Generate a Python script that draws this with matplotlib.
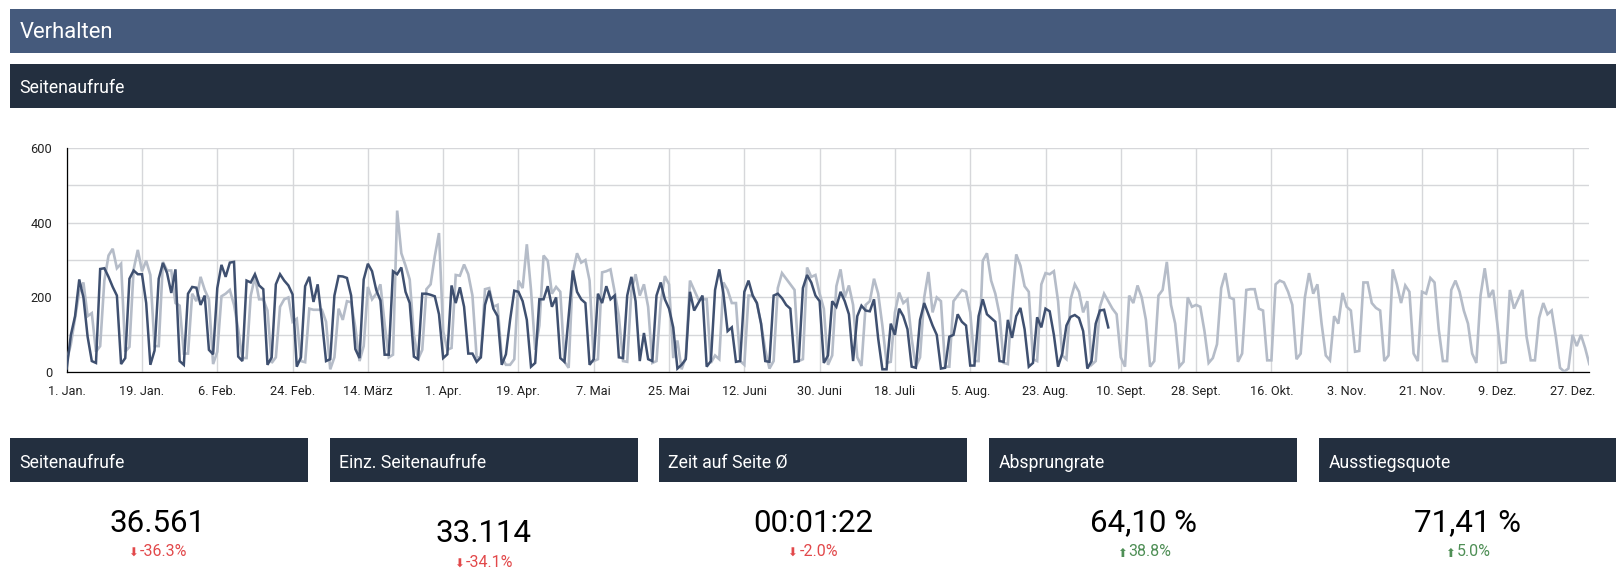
import matplotlib
matplotlib.use("Agg")
import matplotlib.pyplot as plt
import numpy as np

W, H = 1621, 587

C_HEAD1 = "#455a7c"
C_HEAD2 = "#232f3f"
C_DARK = "#3f5070"
C_GRAY = "#b5bcc8"
C_GRID = "#d6d7da"
C_RED = "#e2494b"
C_GREEN = "#4f8f56"

plt.rcParams["font.family"] = ["Roboto", "DejaVu Sans"]

# daily page views, current year (stops in September)
current = [
    10, 100, 150, 248, 200, 95, 30,
    25, 276, 278, 255, 228, 205, 22,
    38, 250, 272, 262, 262, 185, 20,
    58, 250, 292, 265, 212, 275, 30,
    20, 210, 228, 226, 180, 205, 60,
    48, 225, 287, 255, 293, 295, 42,
    30, 245, 240, 262, 232, 222, 20,
    40, 235, 262, 245, 232, 208, 15,
    40, 230, 255, 188, 235, 140, 30,
    35, 205, 257, 256, 252, 205, 62,
    38, 248, 290, 270, 220, 192, 47,
    47, 270, 262, 280, 215, 185, 42,
    35, 210, 210, 207, 203, 155, 38,
    48, 232, 185, 227, 175, 50, 50,
    28, 40, 180, 218, 170, 150, 20,
    48, 140, 218, 215, 190, 140, 15,
    25, 195, 195, 230, 175, 200, 38,
    28, 150, 272, 215, 195, 185, 20,
    35, 210, 185, 230, 195, 205, 40,
    38, 205, 255, 190, 30, 105, 35,
    30, 205, 240, 195, 170, 120, 10,
    20, 35, 215, 165, 185, 205, 15,
    30, 220, 275, 210, 110, 120, 28,
    30, 215, 245, 205, 185, 130, 30,
    28, 205, 210, 198, 180, 170, 28,
    30, 225, 260, 240, 205, 190, 25,
    45, 190, 175, 215, 190, 155, 30,
    150, 178, 165, 163, 195, 90, 8,
    8, 130, 100, 170, 150, 115, 15,
    12, 140, 185, 155, 125, 100, 10,
    12, 95, 100, 155, 135, 125, 18,
    18, 150, 195, 155, 145, 135, 30,
    28, 140, 92, 150, 172, 115, 15,
    25, 147, 120, 170, 163, 100, 15,
    50, 125, 148, 153, 145, 110, 10,
    30, 130, 165, 167, 120,
]

# daily page views, previous year (full year)
previous = [
    30, 75, 145, 215, 240, 150, 158,
    55, 70, 245, 312, 330, 278, 290,
    55, 68, 275, 327, 270, 298, 260,
    70, 70, 295, 272, 272, 185, 178,
    50, 50, 210, 190, 255, 220, 195,
    22, 55, 203, 210, 220, 180, 115,
    38, 38, 205, 255, 195, 195, 165,
    25, 40, 175, 195, 200, 135, 143,
    30, 27, 170, 167, 167, 167, 135,
    8, 40, 170, 140, 190, 187, 120,
    30, 70, 228, 195, 210, 235, 130,
    40, 47, 432, 318, 285, 248, 100,
    35, 60, 222, 235, 310, 372, 110,
    60, 65, 260, 258, 288, 262, 205,
    40, 40, 222, 225, 175, 180, 40,
    20, 20, 35, 245, 225, 342, 220,
    60, 125, 312, 298, 210, 228, 215,
    28, 12, 265, 318, 293, 300, 245,
    30, 35, 267, 270, 275, 215, 150,
    30, 28, 218, 262, 205, 235, 175,
    25, 30, 185, 257, 235, 38, 85,
    8, 40, 245, 220, 195, 195, 195,
    25, 45, 35, 240, 220, 185, 185,
    30, 20, 205, 205, 185, 130, 60,
    10, 30, 225, 265, 250, 235, 220,
    30, 35, 280, 255, 260, 210, 170,
    20, 45, 230, 275, 200, 232, 180,
    40, 17, 180, 190, 250, 210, 125,
    25, 28, 160, 213, 185, 195, 90,
    15, 40, 200, 268, 160, 200, 190,
    15, 15, 190, 205, 220, 215, 160,
    30, 30, 298, 318, 245, 210, 155,
    25, 22, 190, 315, 285, 230, 215,
    35, 30, 235, 265, 262, 270, 190,
    45, 35, 195, 235, 215, 160, 190,
    20, 30, 175, 210, 190, 170, 155,
    40, 15, 205, 185, 232, 200, 140,
    15, 30, 205, 220, 295, 180, 130,
    15, 28, 200, 175, 180, 175, 110,
    25, 38, 75, 225, 265, 200, 195,
    28, 50, 220, 222, 222, 170, 165,
    32, 32, 235, 245, 240, 215, 180,
    35, 50, 200, 265, 210, 235, 130,
    45, 32, 150, 130, 212, 175, 165,
    55, 57, 240, 240, 185, 172, 165,
    30, 45, 275, 235, 185, 232, 215,
    50, 30, 215, 210, 252, 240, 115,
    30, 30, 220, 245, 215, 165, 130,
    50, 25, 205, 278, 200, 220, 130,
    25, 27, 220, 170, 195, 220, 95,
    32, 32, 145, 185, 155, 165, 95,
    12, 2, 10, 100, 70, 100, 65,
    22,
]

tick_days = [0, 18, 36, 54, 72, 90, 108, 126, 144, 162, 180, 198, 216, 234,
             252, 270, 288, 306, 324, 342, 360]
tick_labels = ["1. Jan.", "19. Jan.", "6. Feb.", "24. Feb.", "14. März",
               "1. Apr.", "19. Apr.", "7. Mai", "25. Mai", "12. Juni",
               "30. Juni", "18. Juli", "5. Aug.", "23. Aug.", "10. Sept.",
               "28. Sept.", "16. Okt.", "3. Nov.", "21. Nov.", "9. Dez.",
               "27. Dez."]

tile_titles = ["Seitenaufrufe", "Einz. Seitenaufrufe", "Zeit auf Seite Ø",
               "Absprungrate", "Ausstiegsquote"]
tile_values = ["36.561", "33.114", "00:01:22", "64,10 %", "71,41 %"]
tile_deltas = ["-36.3%", "-34.1%", "-2.0%", "38.8%", "5.0%"]
tile_up = [False, False, False, True, True]

# tile geometry in pixels: left, right, value centre x, value centre y
tile_left = [10, 329.5, 659, 989, 1319]
tile_right = [307.5, 638, 967, 1297, 1616]
tile_cx = [157.5, 483.5, 813, 1143, 1467]
tile_cy = [523, 533.5, 523, 523, 523]


def main():
    fig = plt.figure(figsize=(W / 100, H / 100), dpi=100, facecolor="white")

    # page layer in pixel coordinates
    page = fig.add_axes([0, 0, 1, 1])
    page.set_xlim(0, W)
    page.set_ylim(H, 0)
    page.axis("off")

    page.fill_between([10, 1616], 9, 53, color=C_HEAD1, lw=0)
    page.text(19.5, 32.5, "Verhalten", color="white", fontsize=15.8, va="center")
    page.fill_between([10, 1616], 64, 108, color=C_HEAD2, lw=0)
    page.text(19.5, 88, "Seitenaufrufe", color="white", fontsize=12.7, va="center")

    for i, title in enumerate(tile_titles):
        page.fill_between([tile_left[i], tile_right[i]], 438, 482,
                          color=C_HEAD2, lw=0)
        page.text(tile_left[i] + 9.5, 462.5, title, color="white", fontsize=12.7,
                  va="center")
        page.text(tile_cx[i], tile_cy[i], tile_values[i], color="black",
                  fontsize=22.5, ha="center", va="center")
        col = C_GREEN if tile_up[i] else C_RED
        arrow = "\u2b06" if tile_up[i] else "\u2b07"
        y = tile_cy[i] + 29
        # arrow and delta sit together under the value
        tx = tile_cx[i] + 6.5
        page.text(tx, y, tile_deltas[i], color=col, fontsize=11.5, ha="center",
                  va="center")
        dw = len(tile_deltas[i]) * 7.5
        page.text(tx - dw / 2 - 9, y + 1.5, arrow, color=col, fontsize=8.5,
                  ha="center", va="center", family="DejaVu Sans")

    # chart
    left, right, top, bottom = 66.7, 1589.3, 147.7, 372.3
    ax = fig.add_axes([left / W, 1 - bottom / H, (right - left) / W, (bottom - top) / H])
    ax.patch.set_alpha(0)

    x_prev = np.arange(len(previous))
    x_cur = np.arange(len(current))
    ax.plot(x_prev, previous, color=C_GRAY, lw=1.9, solid_joinstyle="miter", zorder=3)
    ax.plot(x_cur, current, color=C_DARK, lw=1.8, solid_joinstyle="miter", zorder=4)

    ax.set_xlim(0, 364)
    ax.set_ylim(0, 600)
    ax.set_xticks(tick_days)
    ax.set_xticklabels(tick_labels)
    ax.set_yticks([0, 200, 400, 600])
    ax.set_yticks([100, 300, 500], minor=True)
    ax.tick_params(axis="both", which="both", length=0)
    ax.tick_params(axis="x", labelsize=9.2, pad=9, colors="#222222")
    ax.tick_params(axis="y", labelsize=9.2, pad=10.5, colors="#222222")
    ax.grid(True, which="both", color=C_GRID, lw=1.0, zorder=1)
    ax.set_axisbelow(True)

    for side in ["top", "right"]:
        ax.spines[side].set_visible(False)
    for side in ["left", "bottom"]:
        ax.spines[side].set_color("black")
        ax.spines[side].set_linewidth(0.9)

    fig.savefig("out.png", dpi=100)


if __name__ == "__main__":
    main()
